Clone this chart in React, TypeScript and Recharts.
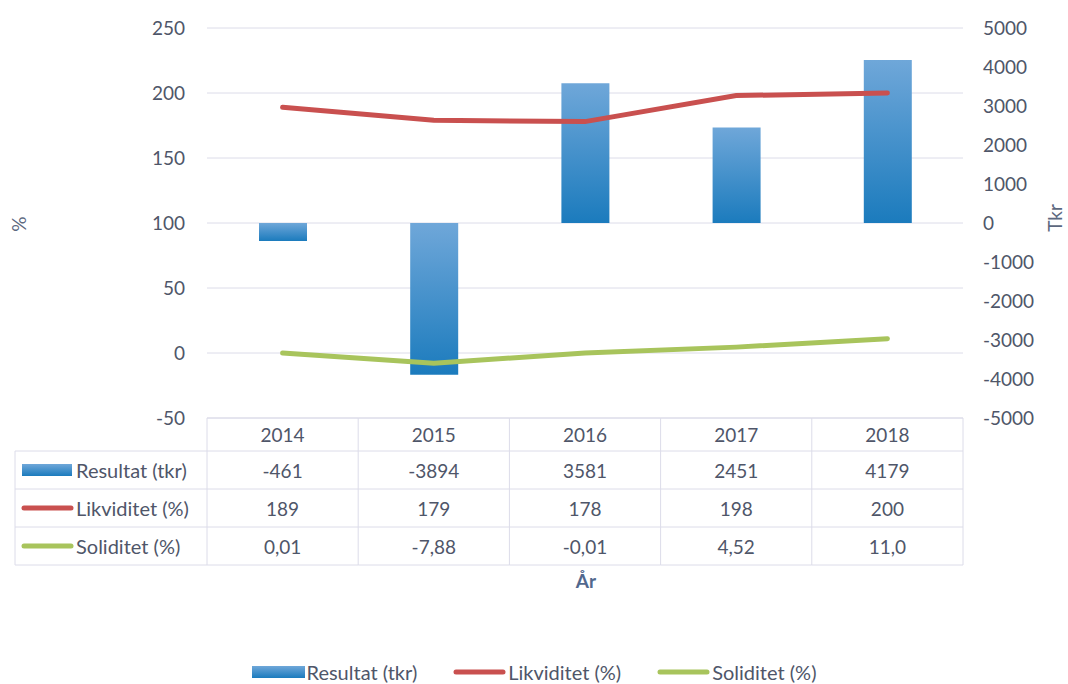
import React from 'react';
import { ComposedChart, Bar, Line, XAxis, YAxis, CartesianGrid } from 'recharts';

const years = ['2014', '2015', '2016', '2017', '2018'];
const resultat = [-461, -3894, 3581, 2451, 4179];
const likviditet = [189, 179, 178, 198, 200];
const soliditet = [0.01, -7.88, -0.01, 4.52, 11.0];
const resultatLabels = ['-461', '-3894', '3581', '2451', '4179'];
const likviditetLabels = ['189', '179', '178', '198', '200'];
const soliditetLabels = ['0,01', '-7,88', '-0,01', '4,52', '11,0'];
const leftTicks = [-50, 0, 50, 100, 150, 200, 250];
const rightTicks = [-5000, -4000, -3000, -2000, -1000, 0, 1000, 2000, 3000, 4000, 5000];
const seriesNames = ['Resultat (tkr)', 'Likviditet (%)', 'Soliditet (%)'];

const data = years.map((y, i) => ({
  year: y,
  resultat: resultat[i],
  likviditet: likviditet[i],
  soliditet: soliditet[i],
}));

const FONT = 'Lato, "Open Sans", sans-serif';
const TEXT = '#4f5669';
const GRID = '#dcdce9';
const BLUE_TOP = '#6fa7d9';
const BLUE_BOT = '#1b7bbd';
const RED = '#c9504f';
const GREEN = '#a8c45c';

const W = 1068;
const H = 684;
const PLOT_L = 207;
const PLOT_R = 963;
const PLOT_T = 28;
const PLOT_B = 418;
const COL_W = (PLOT_R - PLOT_L) / years.length;
const ROW_LINES = [418, 451, 489, 527, 565];
const ROW_TEXT = [434, 470, 508, 546];
const LEG_COL_L = 15;

const LegendIcon = ({ kind, x, y }: { kind: number; x: number; y: number }) => {
  if (kind === 0) {
    return <rect x={x} y={y - 6} width={50} height={12} fill="url(#barGrad)" />;
  }
  return (
    <line x1={x + 2} y1={y} x2={x + 49} y2={y} stroke={kind === 1 ? RED : GREEN} strokeWidth={5} strokeLinecap="round" />
  );
};

const TableTick = (props: any) => {
  const { x, payload } = props;
  const idx = years.indexOf(String(payload.value));
  const left = x - COL_W / 2;
  const right = x + COL_W / 2;
  const rows = [resultatLabels, likviditetLabels, soliditetLabels];
  return (
    <g>
      {ROW_LINES.map((ly, k) => (
        <line key={'h' + k} x1={left} x2={right} y1={ly} y2={ly} stroke={GRID} strokeWidth={1} />
      ))}
      <line x1={left} x2={left} y1={ROW_LINES[0]} y2={ROW_LINES[4]} stroke={GRID} strokeWidth={1} />
      {idx === years.length - 1 && (
        <line x1={right} x2={right} y1={ROW_LINES[0]} y2={ROW_LINES[4]} stroke={GRID} strokeWidth={1} />
      )}
      <text x={x} y={ROW_TEXT[0]} textAnchor="middle" dominantBaseline="central" fontSize={19} fill={TEXT} fontFamily={FONT}>
        {payload.value}
      </text>
      {rows.map((r, k) => (
        <text key={'t' + k} x={x} y={ROW_TEXT[k + 1]} textAnchor="middle" dominantBaseline="central" fontSize={19} fill={TEXT} fontFamily={FONT}>
          {r[idx]}
        </text>
      ))}
      {idx === 0 && (
        <g>
          {ROW_LINES.slice(1).map((ly, k) => (
            <line key={'lh' + k} x1={LEG_COL_L} x2={left} y1={ly} y2={ly} stroke={GRID} strokeWidth={1} />
          ))}
          <line x1={LEG_COL_L} x2={LEG_COL_L} y1={ROW_LINES[1]} y2={ROW_LINES[4]} stroke={GRID} strokeWidth={1} />
          {seriesNames.map((n, k) => (
            <g key={'ln' + k}>
              <LegendIcon kind={k} x={22} y={ROW_TEXT[k + 1]} />
              <text x={76} y={ROW_TEXT[k + 1]} dominantBaseline="central" fontSize={20} fill={TEXT} fontFamily={FONT}>
                {n}
              </text>
            </g>
          ))}
        </g>
      )}
    </g>
  );
};

export default function App() {
  return (
    <div style={{ position: 'absolute', left: 0, top: 0, width: W, height: H, background: '#fff', fontFamily: FONT }}>
      <ComposedChart
        width={W}
        height={H}
        data={data}
        margin={{ top: PLOT_T, right: 0, bottom: H - PLOT_B - 150, left: 0 }}
      >
        <defs>
          <linearGradient id="barGrad" x1="0" y1="0" x2="0" y2="1">
            <stop offset="0%" stopColor={BLUE_TOP} />
            <stop offset="100%" stopColor={BLUE_BOT} />
          </linearGradient>
        </defs>
        <CartesianGrid yAxisId="left" horizontal vertical={false} stroke={GRID} strokeWidth={1} />
        <XAxis
          dataKey="year"
          height={150}
          tickLine={false}
          axisLine={false}
          tickSize={0}
          tickMargin={0}
          interval={0}
          tick={<TableTick />}
          label={{
            content: () => (
              <text x={586} y={580} textAnchor="middle" dominantBaseline="central" fontSize={19} fontWeight="bold" fill="#52688e" fontFamily={FONT}>
                År
              </text>
            ),
          }}
        />
        <YAxis
          yAxisId="left"
          orientation="left"
          width={PLOT_L}
          domain={[-50, 250]}
          ticks={leftTicks}
          tickLine={false}
          axisLine={false}
          tickSize={0}
          tickMargin={22}
          tick={{ fontSize: 19, fill: TEXT, fontFamily: FONT }}
          label={{
            content: () => (
              <text x={18} y={224} transform="rotate(-90 18 224)" textAnchor="middle" dominantBaseline="central" fontSize={19} fill="#5c6880" fontFamily={FONT}>
                %
              </text>
            ),
          }}
        />
        <YAxis
          yAxisId="right"
          orientation="right"
          width={W - PLOT_R}
          domain={[-5000, 5000]}
          ticks={rightTicks}
          tickLine={false}
          axisLine={false}
          tickSize={0}
          tickMargin={20}
          tick={{ fontSize: 19, fill: TEXT, fontFamily: FONT }}
          label={{
            content: () => (
              <text x={1054} y={218} transform="rotate(-90 1054 218)" textAnchor="middle" dominantBaseline="central" fontSize={19} fill="#5c6880" fontFamily={FONT}>
                Tkr
              </text>
            ),
          }}
        />
        <Bar yAxisId="right" dataKey="resultat" name={seriesNames[0]} fill="url(#barGrad)" barSize={48} isAnimationActive={false} />
        <Line yAxisId="left" type="linear" dataKey="likviditet" name={seriesNames[1]} stroke={RED} strokeWidth={5} dot={false} strokeLinecap="round" isAnimationActive={false} />
        <Line yAxisId="left" type="linear" dataKey="soliditet" name={seriesNames[2]} stroke={GREEN} strokeWidth={5} dot={false} strokeLinecap="round" isAnimationActive={false} />
      </ComposedChart>
      <div style={{ position: 'absolute', left: 0, top: 660, width: W, display: 'flex', justifyContent: 'center', alignItems: 'center', fontSize: 20, color: TEXT, fontFamily: FONT }}>
        {seriesNames.map((n, k) => (
          <div key={n} style={{ display: 'flex', alignItems: 'center', marginRight: k < 2 ? 36 : 0 }}>
            <svg width={53} height={14} style={{ display: 'block' }}>
              <defs>
                <linearGradient id={'lg' + k} x1="0" y1="0" x2="0" y2="1">
                  <stop offset="0%" stopColor={BLUE_TOP} />
                  <stop offset="100%" stopColor={BLUE_BOT} />
                </linearGradient>
              </defs>
              {k === 0 ? (
                <rect x={0} y={1} width={53} height={12} fill={'url(#lg0)'} />
              ) : (
                <line x1={3} y1={7} x2={50} y2={7} stroke={k === 1 ? RED : GREEN} strokeWidth={5} strokeLinecap="round" />
              )}
            </svg>
            <span style={{ marginLeft: 2 }}>{n}</span>
          </div>
        ))}
      </div>
    </div>
  );
}
